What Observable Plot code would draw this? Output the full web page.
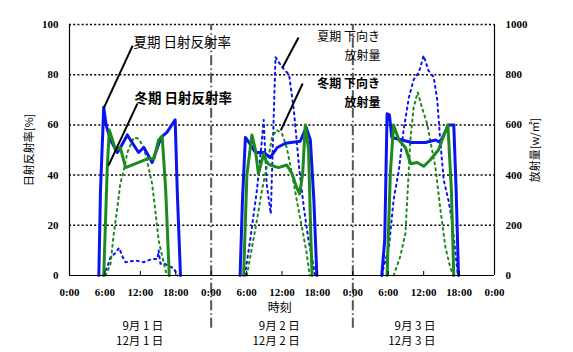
<!DOCTYPE html>
<html>
<head>
<meta charset="utf-8">
<script src="https://cdn.jsdelivr.net/npm/d3@7"></script>
<script src="https://cdn.jsdelivr.net/npm/@observablehq/plot@0.6"></script>
<style>
  html, body { margin: 0; padding: 0; background: #fff; }
  #chart svg { display: block; }
</style>
</head>
<body>
<div id="chart"></div>
<script>
// ---- data (hours from 0:00 of day 1; albedo in %, radiation in W/m²) ----
const xTicks = [0, 6, 12, 18, 24, 30, 36, 42, 48, 54, 60, 66, 72];
const leftTicks = [0, 20, 40, 60, 80, 100];
const dayBounds = [24, 48];

const summerAlbedo = [
  [4.97,0],[5.25,34],[5.8,67],[6.2,60],[6.95,54],[8.1,49],[8.4,50],[9.8,56],[10.6,53],[11.7,49],[12.6,51],[14.0,45],[15.5,55],[16.5,57],[17.9,62],[18.25,34],[18.8,0],
  [28.9,0],[29.3,30],[29.8,55],[30.4,53],[31.5,49],[32.9,49],[34.0,47],[35.2,51],[36.6,52.7],[39.1,53.5],[40.1,59],[40.8,54],[41.4,30],[41.9,0],
  [52.9,0],[53.4,14],[53.8,64.4],[54.2,64],[54.6,55],[56.3,54],[58.0,53],[60.3,53],[62.0,54],[62.8,53],[64.2,60],[65.1,60],[65.5,34],[65.9,0]
];
const winterAlbedo = [
  [5.8,0],[6.4,43],[6.75,58],[7.8,50],[8.6,51],[9.5,43],[13.2,46.5],[14.3,46.5],[15.1,54],[15.7,55.5],[16.3,34],[16.9,0],
  [29.5,0],[30.05,40],[30.9,56],[31.5,50],[32.0,40.5],[32.9,48.5],[33.4,45],[34.0,44],[35.4,43],[36.8,44],[37.7,40.5],[38.5,35],[38.98,32.5],[39.5,40.5],[39.95,60],[40.5,50],[40.9,14],[41.1,0],
  [53.8,0],[54.35,40.5],[54.9,60],[55.8,54],[56.9,51],[57.8,44.5],[58.9,45],[60.0,43.5],[61.1,46],[62.5,50],[64.1,60],[64.7,34],[65.1,0]
];
const summerRadiation = [
  [5.6,0],[6.4,33],[6.95,73],[7.8,90],[8.4,110],[9.0,75],[9.5,53],[11.2,60],[12.6,53],[14.0,66],[14.9,66],[15.1,100],[15.4,47],[16.0,48],[17.7,28],[18.3,0],
  [29.7,0],[30.6,140],[31.75,340],[32.6,540],[32.9,620],[33.4,365],[34.1,246],[34.5,560],[34.9,870],[36.0,830],[37.2,800],[38.0,660],[38.4,560],[38.9,430],[39.7,270],[40.5,140],[41.4,30],[41.6,0],
  [53.0,0],[53.2,33],[54.1,110],[54.9,300],[55.8,420],[56.6,580],[57.5,710],[58.3,780],[59.2,810],[60.0,876],[60.8,817],[61.7,790],[62.3,700],[62.8,540],[63.4,380],[64.2,300],[64.8,220],[65.4,86],[65.8,0]
];
const winterRadiation = [
  [6.1,0],[6.95,46],[7.5,166],[8.1,270],[8.6,365],[9.2,420],[9.8,490],[10.9,550],[11.7,545],[12.6,510],[13.4,430],[14.0,365],[14.6,246],[15.1,140],[16.0,47],[16.5,0],
  [30.05,0],[30.9,110],[31.75,220],[32.6,340],[33.4,430],[34.3,550],[35.1,580],[36.0,565],[36.8,510],[37.7,405],[38.5,300],[39.4,190],[40.2,86],[40.7,0],
  [54.9,0],[56.0,73],[56.9,166],[57.3,340],[57.75,540],[58.3,670],[59.0,730],[59.7,670],[60.6,604],[61.1,540],[62.0,430],[62.8,270],[63.7,110],[64.5,33],[65.0,0]
];

const dateLines1 = ["9月 1 日", "9月 2 日", "9月 3 日"];
const dateLines2 = ["12月 1 日", "12月 2 日", "12月 3 日"];

// ---- helpers ----
const toRows = (arr, scale = 1) => arr.map(([h, v]) => ({h, v: v / scale, day: Math.floor(h / 24)}));

const BLUE = "#0a14f0";
const GREEN = "#1e8a1e";
const JP = "'Noto Sans CJK JP', 'Noto Sans', sans-serif";
const NUM = "'Liberation Serif', 'DejaVu Serif', serif";

// annotation layout (positions in data units of the chart)
const notes = [
  {x: 10.85, y: 92.8, text: "夏期 日射反射率", anchor: "start", weight: "normal", size: 13.5},
  {x: 11.0, y: 70.5, text: "冬期 日射反射率", anchor: "start", weight: "bold", size: 13.5},
  {x: 52.6, y: 95.0, text: "夏期 下向き", anchor: "end", weight: "normal", size: 12},
  {x: 52.7, y: 87.4, text: "放射量", anchor: "end", weight: "normal", size: 12},
  {x: 52.6, y: 76.4, text: "冬期 下向き", anchor: "end", weight: "bold", size: 12},
  {x: 52.7, y: 68.8, text: "放射量", anchor: "end", weight: "bold", size: 12}
];
const callouts = [
  {x1: 5.76, y1: 66.5, x2: 10.7, y2: 91.6},
  {x1: 6.6, y1: 43.8, x2: 11.5, y2: 68.5},
  {x1: 36.1, y1: 82.9, x2: 38.8, y2: 94.8},
  {x1: 35.8, y1: 57.8, x2: 39.5, y2: 76.5}
];
const dateX = [15.9, 39.0, 62.0];

const chart = Plot.plot({
  width: 573,
  height: 352,
  marginLeft: 69,
  marginRight: 79,
  marginTop: 24,
  marginBottom: 77,
  style: {fontFamily: NUM, fontSize: "11px", color: "black", background: "white", overflow: "visible"},
  x: {domain: [0, 72]},
  y: {domain: [0, 100]},
  marks: [
    // dotted horizontal gridlines (incl. top border)
    Plot.ruleY([20, 40, 60, 80, 100], {stroke: "black", strokeWidth: 1.5, strokeDasharray: "2,2.2"}),
    // day boundaries (dash-dot)
    Plot.ruleX(dayBounds, {y1: -21, y2: 100, stroke: "#555", strokeWidth: 2, strokeDasharray: "10,3,1.5,3"}),
    // radiation (right axis, dotted)
    Plot.line(toRows(summerRadiation, 10), {x: "h", y: "v", z: "day", stroke: BLUE, strokeWidth: 2, strokeDasharray: "2,4"}),
    Plot.line(toRows(winterRadiation, 10), {x: "h", y: "v", z: "day", stroke: GREEN, strokeWidth: 2, strokeDasharray: "2,4"}),
    // albedo (left axis, thick)
    Plot.line(toRows(summerAlbedo), {x: "h", y: "v", z: "day", stroke: BLUE, strokeWidth: 3}),
    Plot.line(toRows(winterAlbedo), {x: "h", y: "v", z: "day", stroke: GREEN, strokeWidth: 3}),
    // frame
    Plot.ruleX([0, 72], {y1: 0, y2: 100, stroke: "black", strokeWidth: 1.2}),
    Plot.ruleY([0], {stroke: "black", strokeWidth: 1.2}),
    // inward x ticks
    Plot.ruleX(xTicks, {y1: 0, y2: 1.6, stroke: "black"}),
    // axes
    Plot.axisX(xTicks, {anchor: "bottom", tickSize: 0, tickPadding: 13, tickFormat: d => `${d % 24}:00`, label: null, fontWeight: "bold"}),
    Plot.axisY(leftTicks, {anchor: "left", tickSize: 0, tickPadding: 11, fontWeight: "bold",
      label: "日射反射率[%]", labelAnchor: "center", labelOffset: 44, labelArrow: false}),
    Plot.axisY(leftTicks, {anchor: "right", tickSize: 0, tickPadding: 11, fontWeight: "bold", tickFormat: d => String(d * 10),
      label: "放射量[w/㎡]", labelAnchor: "center", labelOffset: 44, labelArrow: false}),
    // callout lines
    Plot.link(callouts, {x1: "x1", y1: "y1", x2: "x2", y2: "y2", stroke: "black", strokeWidth: 2}),
    // annotation texts
    ...notes.map(n => Plot.text([n], {x: "x", y: "y", text: "text", textAnchor: n.anchor, fontWeight: n.weight,
      fontSize: n.size, fontFamily: JP, fill: "black"})),
    // x title and dates
    Plot.text(["時刻"], {x: 35.6, y: -13.1, text: d => d, fontFamily: JP, fontSize: 12, fill: "black"}),
    Plot.text(dateLines1, {x: (d, i) => dateX[i], y: -20.4, text: d => d, textAnchor: "end", fontFamily: JP, fontSize: 11.5, fill: "black"}),
    Plot.text(dateLines2, {x: (d, i) => dateX[i], y: -26.4, text: d => d, textAnchor: "end", fontFamily: JP, fontSize: 11.5, fill: "black"})
  ]
});

// axis label fonts: Japanese
chart.querySelectorAll("[aria-label='y-axis label'] text, g[aria-label='y-axis label'] text").forEach(t => {
  t.setAttribute("font-family", JP);
  t.setAttribute("font-size", "11");
  t.setAttribute("font-weight", "normal");
});
document.getElementById("chart").appendChild(chart);
</script>
</body>
</html>
